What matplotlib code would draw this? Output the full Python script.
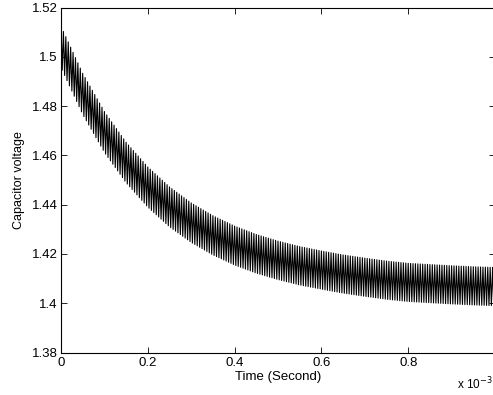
import numpy as np
import matplotlib
matplotlib.use("Agg")
import matplotlib.pyplot as plt

# envelope readings (time in seconds)
env_time = np.array([0, .05, .1, .15, .2, .25, .3, .35, .4, .45, .5,
                     .55, .6, .65, .7, .75, .8, .85, .9, .95, 1.0]) * 1e-3
upper_env = [1.5124, 1.4933, 1.4778, 1.4653, 1.4553, 1.4472, 1.4407, 1.4355,
             1.4313, 1.4279, 1.4252, 1.4230, 1.4212, 1.4196, 1.4183, 1.4171,
             1.4162, 1.4157, 1.4152, 1.4148, 1.4145]
ripple_pp = [0.0168, 0.0167, 0.0166, 0.0164, 0.0163, 0.0162, 0.0160, 0.0159,
             0.0158, 0.0157, 0.0156, 0.0156, 0.0155, 0.0155, 0.0155, 0.0155,
             0.0155, 0.0155, 0.0155, 0.0155, 0.0155]
n_cycles = 180

# build the switching ripple waveform: peak / trough per cycle
t_peaks = np.linspace(0, 1e-3, n_cycles + 1)
up = np.interp(t_peaks, env_time, upper_env)
lo = up - np.interp(t_peaks, env_time, ripple_pp)
t_tr = t_peaks[:-1] + 0.5 * (t_peaks[1] - t_peaks[0])
lo_tr = np.interp(t_tr, t_peaks, lo)
t = np.empty(2 * n_cycles + 1)
v = np.empty(2 * n_cycles + 1)
t[0::2] = t_peaks
v[0::2] = up
t[1::2] = t_tr
v[1::2] = lo_tr

x_ticks = [0, 0.2e-3, 0.4e-3, 0.6e-3, 0.8e-3, 1e-3]
x_labels = ["0", "0.2", "0.4", "0.6", "0.8", ""]
y_ticks = [1.38, 1.40, 1.42, 1.44, 1.46, 1.48, 1.50, 1.52]
y_labels = ["1.38", "1.4", "1.42", "1.44", "1.46", "1.48", "1.5", "1.52"]

plt.rcParams['font.family'] = ['Liberation Sans', 'DejaVu Sans']
fs = 9.5
fig = plt.figure(figsize=(4.93, 3.95), dpi=100)
ax = fig.add_axes([61 / 493, 42.5 / 395, 434 / 493, 345 / 395])
ax.plot(t, v, color='black', linewidth=0.8)
ax.set_xlim(0, 1e-3)
ax.set_ylim(1.38, 1.52)
ax.set_xticks(x_ticks)
ax.set_xticklabels(x_labels)
ax.set_yticks(y_ticks)
ax.set_yticklabels(y_labels)
ax.tick_params(direction='in', top=True, right=True, length=4, width=0.6,
               labelsize=fs)
ax.tick_params(axis='x', pad=3.5)
ax.tick_params(axis='y', pad=2.5)
for s in ax.spines.values():
    s.set_linewidth(0.8)
ax.set_xlabel("Time (Second)", fontsize=fs, labelpad=1.5)
ax.set_ylabel("Capacitor voltage", fontsize=9, labelpad=5)
fig.text(457 / 493, 1 - 389 / 395, "x 10$^{-3}$", fontsize=8.5, ha='left', va='baseline')
fig.savefig("out.png", dpi=100)
